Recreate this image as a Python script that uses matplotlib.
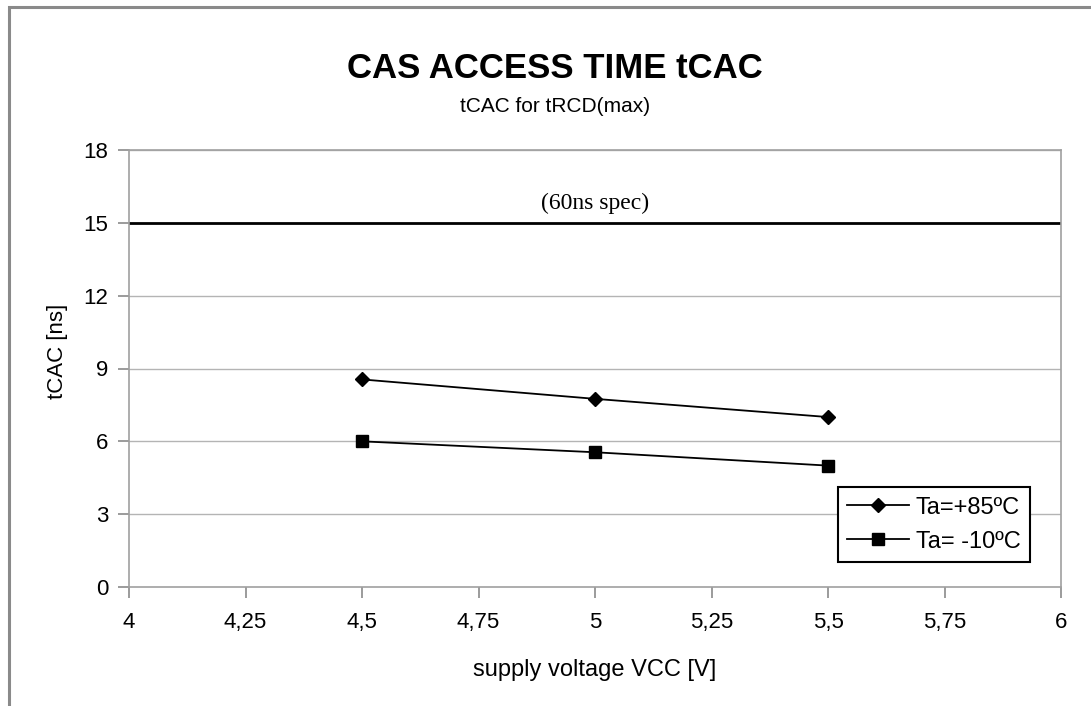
import matplotlib.pyplot as plt
from matplotlib.patches import Rectangle

# supply voltage [V]
vcc = [4.5, 5.0, 5.5]
t_hot = [8.55, 7.75, 7.0]    # Ta=+85 C
t_cold = [6.0, 5.55, 5.0]    # Ta=-10 C
spec = 15
x_ticks = [4, 4.25, 4.5, 4.75, 5, 5.25, 5.5, 5.75, 6]
x_labels = ["4", "4,25", "4,5", "4,75", "5", "5,25", "5,5", "5,75", "6"]
y_ticks = [0, 3, 6, 9, 12, 15, 18]

plt.rcParams['font.family'] = ['Liberation Sans', 'DejaVu Sans']

fig = plt.figure(figsize=(10.91, 7.06), dpi=100)
ax = fig.add_axes([129 / 1091, 1 - 587 / 706, 932 / 1091, 437 / 706])

# outer chart frame (cut off at right/bottom like the scan)
fig.patches.append(Rectangle((9 / 1091, -0.05), 1.2, 1 - 7 / 706 + 0.05,
                             transform=fig.transFigure, fill=False,
                             edgecolor='#8a8a8a', linewidth=2.2, clip_on=False))

for y in y_ticks[1:]:
    if y != spec:
        ax.axhline(y, color='#b4b4b4', linewidth=1.0, zorder=1)
ax.axhline(spec, color='black', linewidth=2.0, zorder=2)
ax.text(5.0, 15.8, "(60ns spec)", family='Liberation Serif', fontsize=17,
        ha='center', va='center')

ax.plot(vcc, t_hot, color='black', marker='D', markersize=7.5, linewidth=1.3,
        label='Ta=+85ºC', zorder=3)
ax.plot(vcc, t_cold, color='black', marker='s', markersize=9, linewidth=1.3,
        label='Ta= -10ºC', zorder=3)

ax.set_xlim(4, 6)
ax.set_ylim(0, 18)
ax.set_xticks(x_ticks)
ax.set_xticklabels(x_labels)
ax.set_yticks(y_ticks)
ax.tick_params(axis='both', labelsize=16, color='#8a8a8a', length=8, width=1.2)
ax.tick_params(axis='x', pad=10)
ax.tick_params(axis='y', pad=7)
for s in ax.spines.values():
    s.set_color('#a0a0a0')
    s.set_linewidth(1.2)

ax.set_xlabel("supply voltage VCC [V]", fontsize=17, va='center')
ax.xaxis.set_label_coords(0.5, (587 - 670) / 437)
ax.set_ylabel("tCAC [ns]", fontsize=16, va='center')
ax.yaxis.set_label_coords((57 - 129) / 932, 0.54)

fig.text(555 / 1091, 1 - 68 / 706, "CAS ACCESS TIME tCAC", fontsize=25,
         fontweight='bold', ha='center', va='center')
fig.text(555 / 1091, 1 - 107 / 706, "tCAC for tRCD(max)", fontsize=15,
         ha='center', va='center')

leg = ax.legend(loc='lower right', bbox_to_anchor=(1030 / 1091, 1 - 562 / 706),
                bbox_transform=fig.transFigure, fontsize=17, fancybox=False,
                framealpha=1, edgecolor='black', handlelength=2.6,
                handletextpad=0.3, borderpad=0.4, labelspacing=0.5,
                borderaxespad=0)
leg.get_frame().set_linewidth(1.5)

plt.savefig("out.png", dpi=100)
plt.close()
